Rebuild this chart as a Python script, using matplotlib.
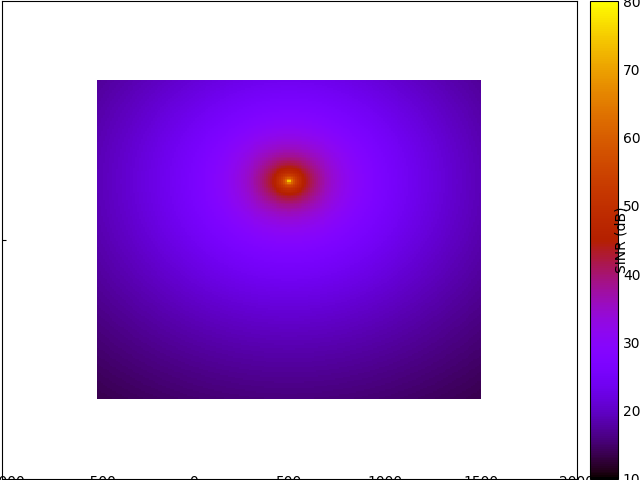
import numpy as np
import matplotlib
matplotlib.use("Agg")
import matplotlib.pyplot as plt

# ---- data ----
bs_x = 500.0            # base station x (m)
bs_y = 866.0            # base station y (m)
sinr_at_1m = 91.0       # dB at 1 m reference
pathloss_slope = 24.0   # dB per decade
min_dist = 5.0
area_x = [-500.0, 1500.0]
area_y = [-500.0, 1500.0]
grid_step = 10.0
cbar_min, cbar_max = 10, 80
cbar_ticks = [10, 20, 30, 40, 50, 60, 70, 80]
x_ticks = [-1000, -500, 0, 500, 1000, 1500, 2000]
x_lim = [-1000, 2000]
y_lim = [-1000, 2000]

xs = np.arange(area_x[0] + grid_step / 2, area_x[1], grid_step)
ys = np.arange(area_y[0] + grid_step / 2, area_y[1], grid_step)
X, Y = np.meshgrid(xs, ys)
D = np.maximum(np.hypot(X - bs_x, Y - bs_y), min_dist)
SINR = sinr_at_1m - pathloss_slope * np.log10(D)

fig = plt.figure(figsize=(6.4, 4.8), dpi=100)
ax = fig.add_axes([1.5 / 640, 1 / 480, 575 / 640, 478 / 480])
im = ax.imshow(SINR, origin="lower", cmap="gnuplot", vmin=cbar_min, vmax=cbar_max,
               extent=[area_x[0], area_x[1], area_y[0], area_y[1]], aspect="auto",
               interpolation="nearest")
ax.set_xlim(x_lim)
ax.set_ylim(y_lim)
ax.set_xticks(x_ticks)
ax.set_xticklabels([str(v).replace("-", "\u2212") for v in x_ticks])
ax.tick_params(axis="x", length=0, pad=-2.8)
ax.set_xticks([500], minor=True)
ax.tick_params(axis="x", which="minor", direction="in", length=3)
ax.set_yticks([500])
ax.set_yticklabels([""])
ax.tick_params(axis="y", direction="in", length=3)

cax = fig.add_axes([590 / 640, 1 / 480, 28 / 640, 478 / 480])
cbar = fig.colorbar(im, cax=cax, ticks=cbar_ticks)
cbar.ax.tick_params(length=0, pad=3.5)
cbar.set_label("SINR (dB)")
cbar.ax.yaxis.set_label_coords(0.88, 0.5)

fig.savefig("out.png", dpi=100)
